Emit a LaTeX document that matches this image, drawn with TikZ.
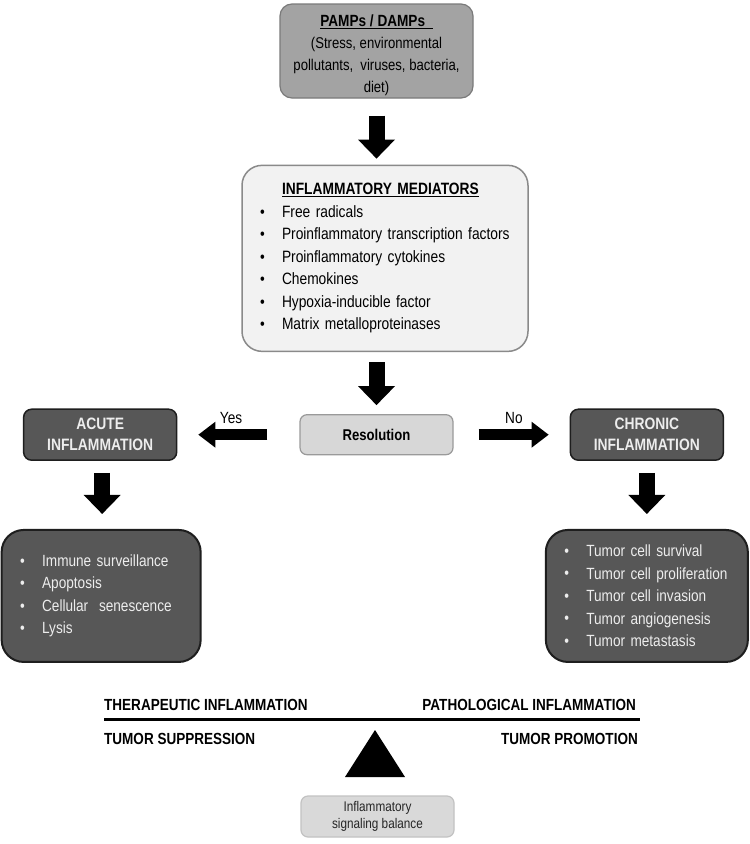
\documentclass[tikz,border=0pt]{standalone}
\usepackage{fontspec}
\setmainfont{Liberation Sans}[FakeStretch=0.84]
\usetikzlibrary{positioning,arrows.meta}
\definecolor{pampfill}{HTML}{A3A3A3}
\definecolor{pampline}{HTML}{7A7A7A}
\definecolor{medfill}{HTML}{F2F2F2}
\definecolor{medline}{HTML}{8A8A8A}
\definecolor{resfill}{HTML}{D7D7D7}
\definecolor{resline}{HTML}{9A9A9A}
\definecolor{darkfill}{HTML}{575757}
\definecolor{darkline}{HTML}{1E1E1E}
\definecolor{lighttext}{HTML}{EDEDED}
\definecolor{balfill}{HTML}{D9D9D9}
\definecolor{balline}{HTML}{C2C2C2}
\newcommand{\setfsz}[2]{\fontsize{#1}{#2}\selectfont}
\newcommand{\blt}{\makebox[22pt][l]{\raisebox{0.3pt}{\setfsz{16}{16}\textbullet}}}
\begin{document}
\begin{tikzpicture}[x=1pt, y=-1pt, every node/.style={inner sep=0pt},
    pamps/.style={draw=pampline, fill=pampfill, line width=1.2pt, rounded corners=12pt, minimum width=193pt, minimum height=94pt, align=center, font=\setfsz{15.6}{22}},
    mediators/.style={draw=medline, fill=medfill, line width=1.5pt, rounded corners=20pt, text width=250pt, inner xsep=18pt, minimum height=186pt, align=left, font=\setfsz{16.4}{22.5}},
    resol/.style={draw=resline, fill=resfill, line width=1.2pt, rounded corners=7pt, minimum width=153pt, minimum height=40pt, font=\bfseries\setfsz{15.6}{18}},
    inflam/.style={draw=darkline, fill=darkfill, line width=1.5pt, rounded corners=8pt, minimum width=153pt, minimum height=51pt, align=center, text=lighttext, font=\bfseries\setfsz{16.5}{21}},
    effects/.style={draw=darkline, fill=darkfill, line width=2pt, rounded corners=22pt, inner xsep=18.5pt, minimum height=132pt, align=left, text=lighttext, font=\setfsz{16.2}{22.5}},
    balbox/.style={draw=balline, fill=balfill, line width=1.2pt, rounded corners=7pt, minimum width=153pt, minimum height=41pt, align=center, text=black!85, font=\setfsz{14}{16.5}},
    side/.style={font=\bfseries\setfsz{16.1}{18}},
    lbl/.style={font=\setfsz{16.2}{18}},
    fatdown/.style={line width=16pt, -{Triangle[width=37pt,length=19pt,line width=0pt]}},
    fatside/.style={line width=11pt, -{Triangle[width=26pt,length=17pt,line width=0pt]}}]
\fill[white] (0,0) rectangle (750,844);
\useasboundingbox (0,0) rectangle (750,844);

\node[pamps] (pamps) at (376.5,51) {\rule{0pt}{20pt}\textbf{\setfsz{16.2}{22}\underline{PAMPs / DAMPs\ \ }}\\(Stress, environmental\\pollutants,\ \ viruses, bacteria,\\diet)};
\node[mediators] (med) [below=66pt of pamps, xshift=8.5pt] {\hspace*{22pt}\textbf{\underline{INFLAMMATORY MEDIATORS}}\\
    \blt Free radicals\\
    \blt Proinflammatory transcription factors\\
    \blt Proinflammatory cytokines\\
    \blt Chemokines\\
    \blt Hypoxia-inducible factor\\
    \blt Matrix metalloproteinases};
\node[resol] (resol) [below=62pt of med, xshift=-8.5pt] {Resolution};
\node[inflam] (acute) [left=122pt of resol] {ACUTE\\INFLAMMATION};
\node[inflam] (chronic) [right=116pt of resol] {CHRONIC\\INFLAMMATION};
\node[effects, text width=162pt] (acutelist) [below=68pt of acute, xshift=1pt] {\blt Immune surveillance\\
    \blt Apoptosis\\
    \blt Cellular\ \ senescence\\
    \blt Lysis};
\node[effects, text width=165pt] (chroniclist) [below=68pt of chronic] {\blt Tumor cell survival\\
    \blt Tumor cell proliferation\\
    \blt Tumor cell invasion\\
    \blt Tumor angiogenesis\\
    \blt Tumor metastasis};

\draw[fatdown, shorten <=17pt, shorten >=6pt] (pamps.south) -- (pamps.south |- med.north);
\draw[fatdown, shorten <=10pt, shorten >=9pt] (med.south -| resol.north) -- (resol.north);
\draw[fatside, shorten <=32pt, shorten >=21pt] (resol.west) -- (acute.east) node[lbl, above=6pt, pos=0.56] (yes) {Yes};
\draw[fatside, shorten <=25pt, shorten >=21pt] (resol.east) -- (chronic.west) node[lbl, above=6pt, pos=0.52] (no) {No};
\draw[fatdown, shorten <=12pt, shorten >=15pt] ([xshift=2pt]acute.south) -- ([xshift=2pt]acute.south |- acutelist.north);
\draw[fatdown, shorten <=12pt, shorten >=15pt] (chronic.south) -- (chronic.south |- chroniclist.north);

\draw[line width=3pt] (104,719) -- (640,719);
\node[side, anchor=west] (thera) at (104,705) {THERAPEUTIC INFLAMMATION};
\node[side, anchor=east] (patho) at (636,705) {PATHOLOGICAL INFLAMMATION};
\node[side, anchor=west] (supp) at (104,739) {TUMOR SUPPRESSION};
\node[side, anchor=east] (promo) at (638,739) {TUMOR PROMOTION};
\fill (375,730) -- (405,777) -- (345,777) -- cycle;
\node[balbox] (balance) at (377.5,816.5) {Inflammatory\\signaling balance};
\end{tikzpicture}
\end{document}
